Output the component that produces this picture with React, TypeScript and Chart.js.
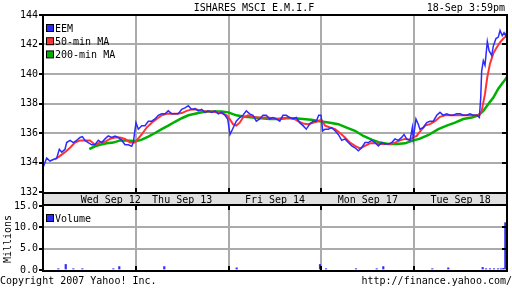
import React, { useEffect, useRef } from "react";
import { Chart, registerables } from "chart.js";

Chart.register(...registerables);

// ---------- text ----------
const TITLE = "ISHARES MSCI E.M.I.F";
const STAMP = "18-Sep 3:59pm";
const COPYRIGHT = "Copyright 2007 Yahoo! Inc.";
const URL_TEXT = "http://finance.yahoo.com/";
const VOLUME_AXIS_TITLE = "Millions";

// ---------- axes ----------
const dayLabels = ["Wed Sep 12", "Thu Sep 13", "Fri Sep 14", "Mon Sep 17", "Tue Sep 18"];
const dayLabelAt = [0.73, 1.5, 2.5, 3.5, 4.5];
const dayBoundaries = [1, 2, 3, 4];
const priceMin = 132;
const priceMax = 144;
const priceStep = 2;
const volMin = 0;
const volMax = 15;
const volStep = 5;

// ---------- data (x = trading days since Wed open) ----------
const eemTime = [
  0.003, 0.04, 0.075, 0.111, 0.148, 0.176, 0.202, 0.237, 0.255, 0.291,
  0.327, 0.363, 0.399, 0.424, 0.453, 0.488, 0.525, 0.56, 0.596, 0.633,
  0.668, 0.704, 0.74, 0.776, 0.811, 0.848, 0.884, 0.919, 0.956, 0.973,
  1.002, 1.027, 1.064, 1.099, 1.135, 1.171, 1.207, 1.242, 1.279, 1.315,
  1.35, 1.387, 1.422, 1.458, 1.495, 1.53, 1.566, 1.602, 1.638, 1.673,
  1.71, 1.746, 1.781, 1.818, 1.853, 1.889, 1.926, 1.961, 1.99,
  2.015, 2.051, 2.083, 2.12, 2.155, 2.191, 2.227, 2.263, 2.299, 2.335,
  2.371, 2.406, 2.443, 2.478, 2.514, 2.551, 2.586, 2.622, 2.658, 2.694,
  2.73, 2.766, 2.802, 2.837, 2.874, 2.909, 2.945, 2.971, 2.996,
  3.014, 3.039, 3.074, 3.111, 3.147, 3.182, 3.219, 3.254, 3.29, 3.327,
  3.362, 3.398, 3.434, 3.47, 3.505, 3.542, 3.578, 3.613, 3.65, 3.685,
  3.721, 3.758, 3.793, 3.829, 3.865, 3.89, 3.919, 3.955, 3.98, 3.99,
  4.019, 4.044, 4.062, 4.098, 4.135, 4.17, 4.206, 4.243, 4.278, 4.314,
  4.35, 4.386, 4.421, 4.458, 4.494, 4.529, 4.566, 4.601, 4.637, 4.674,
  4.702, 4.717, 4.727, 4.745, 4.763, 4.788, 4.806, 4.835, 4.853, 4.881,
  4.906, 4.925, 4.949, 4.968, 4.986, 5.0,
];
const eemPrice = [
  133.7, 134.3, 134.1, 134.2, 134.3, 134.9, 134.7, 134.9, 135.35, 135.5,
  135.35, 135.5, 135.7, 135.76, 135.5, 135.35, 135.2, 135.2, 135.5, 135.35,
  135.6, 135.8, 135.7, 135.8, 135.7, 135.5, 135.2, 135.2, 135.1, 135.35,
  136.7, 136.26, 136.5, 136.5, 136.8, 136.8, 136.95, 137.2, 137.3, 137.3,
  137.5, 137.3, 137.3, 137.3, 137.6, 137.7, 137.85, 137.6, 137.65, 137.5,
  137.6, 137.4, 137.5, 137.4, 137.5, 137.3, 137.4, 137.2, 136.95,
  135.9, 136.37, 136.8, 137.05, 137.2, 137.5, 137.3, 137.2, 136.8, 136.95,
  137.2, 137.2, 136.95, 137.05, 136.95, 136.8, 137.2, 137.2, 137.05, 136.95,
  137.05, 136.7, 136.5, 136.26, 136.6, 136.8, 136.8, 137.2, 137.2,
  136.15, 136.26, 136.26, 136.37, 136.15, 135.9, 135.5, 135.6, 135.35, 135.13,
  135.0, 134.8, 135.0, 135.35, 135.35, 135.5, 135.35, 135.13, 135.35, 135.25,
  135.25, 135.35, 135.6, 135.5, 135.7, 135.9, 135.6, 135.5, 136.37, 135.6,
  136.95, 136.6, 136.26, 136.37, 136.7, 136.8, 136.8, 137.2, 137.4, 137.2,
  137.3, 137.2, 137.2, 137.3, 137.3, 137.2, 137.2, 137.3, 137.2, 137.2,
  137.05, 138.4, 140.2, 140.9, 140.6, 142.2, 141.6, 141.25, 141.9, 142.4,
  142.5, 142.95, 142.6, 142.8, 142.6, 142.95,
];

const ma50Time = [
  0.129, 0.183, 0.237, 0.291, 0.345, 0.399, 0.453, 0.506, 0.56, 0.614,
  0.668, 0.722, 0.776, 0.83, 0.884, 0.938, 0.991,
  1.01, 1.064, 1.117, 1.171, 1.225, 1.279, 1.333, 1.387, 1.441, 1.495,
  1.548, 1.602, 1.656, 1.71, 1.764, 1.818, 1.872, 1.926, 1.98,
  2.012, 2.047, 2.083, 2.12, 2.155, 2.209, 2.263, 2.317, 2.371, 2.425,
  2.478, 2.532, 2.586, 2.64, 2.694, 2.748, 2.802, 2.856, 2.909, 2.963, 2.999,
  3.039, 3.093, 3.147, 3.2, 3.254, 3.308, 3.362, 3.416, 3.47, 3.524,
  3.578, 3.631, 3.685, 3.739, 3.793, 3.847, 3.901, 3.955, 3.99,
  4.027, 4.062, 4.116, 4.17, 4.224, 4.278, 4.332, 4.386, 4.44, 4.494,
  4.547, 4.601, 4.655, 4.702, 4.727, 4.763, 4.788, 4.817, 4.853, 4.889,
  4.925, 4.96, 4.997,
];
const ma50Price = [
  134.2, 134.45, 134.7, 135.0, 135.35, 135.5, 135.5, 135.5, 135.2, 135.35,
  135.4, 135.6, 135.7, 135.7, 135.6, 135.35, 135.35,
  135.5, 135.9, 136.37, 136.7, 136.95, 137.2, 137.3, 137.3, 137.3, 137.35,
  137.5, 137.6, 137.6, 137.5, 137.45, 137.45, 137.4, 137.35, 137.2,
  136.95, 136.6, 136.5, 136.7, 137.05, 137.2, 137.1, 137.05, 137.05, 137.05,
  137.0, 136.95, 137.0, 137.05, 137.0, 136.8, 136.65, 136.6, 136.7, 136.8, 136.9,
  136.5, 136.37, 136.26, 136.0, 135.7, 135.35, 135.13, 134.95, 135.13, 135.3,
  135.3, 135.25, 135.25, 135.25, 135.35, 135.5, 135.6, 135.55, 135.7,
  135.8, 136.1, 136.5, 136.6, 136.8, 137.1, 137.2, 137.2, 137.2, 137.2,
  137.2, 137.2, 137.2, 137.2, 137.5, 138.65, 139.8, 140.7, 141.4, 141.8,
  142.15, 142.4, 142.6,
];

const ma200Time = [
  0.499, 0.56, 0.614, 0.686, 0.758, 0.83, 0.902, 0.973, 1.01, 1.064,
  1.135, 1.207, 1.279, 1.35, 1.422, 1.495, 1.566, 1.638, 1.71, 1.781,
  1.853, 1.926, 1.997, 2.083, 2.173, 2.263, 2.352, 2.443, 2.532, 2.622,
  2.712, 2.802, 2.891, 2.982, 3.093, 3.182, 3.272, 3.362, 3.452, 3.542,
  3.631, 3.721, 3.811, 3.901, 3.99, 4.055, 4.149, 4.26, 4.35, 4.44,
  4.529, 4.62, 4.691, 4.745, 4.799, 4.853, 4.906, 4.96, 5.0,
];
const ma200Price = [
  134.9, 135.1, 135.2, 135.3, 135.35, 135.5, 135.5, 135.45, 135.45, 135.55,
  135.76, 136.0, 136.26, 136.5, 136.76, 137.0, 137.2, 137.3, 137.4, 137.45,
  137.46, 137.46, 137.4, 137.2, 137.1, 137.05, 137.0, 136.95, 136.95, 137.0,
  137.0, 136.95, 136.9, 136.8, 136.7, 136.6, 136.37, 136.15, 135.8, 135.55,
  135.35, 135.25, 135.25, 135.3, 135.5, 135.6, 135.85, 136.26, 136.5, 136.7,
  136.95, 137.05, 137.2, 137.5, 137.96, 138.4, 139.0, 139.45, 139.8,
];

const volTime = [
  0.165, 0.245, 0.327, 0.424, 0.758, 0.822, 1.307, 2.087, 2.985, 3.05,
  3.373, 3.596, 3.667, 4.195, 4.367, 4.738, 4.774, 4.817, 4.86, 4.903,
  4.935, 4.96, 4.982,
];
const volMillions = [
  0.3, 1.3, 0.3, 0.3, 0.3, 0.8, 0.8, 0.5, 1.3, 0.3,
  0.3, 0.3, 0.8, 0.3, 0.5, 0.6, 0.3, 0.3, 0.3, 0.3,
  0.3, 0.4, 11.1,
];

// ---------- style ----------
const FONT_FAMILY = '"DejaVu Sans Mono", "Liberation Mono", monospace';
const FONT_SIZE = 10;
const BLUE = "#2b2bff";
const RED = "#ff3333";
const GREEN = "#00b000";
const GRID = "#ababab";
const BAND = "#e0e0e0";
const W = 512;
const H = 288;
const PLOT_LEFT = 43;
const PLOT_RIGHT = 507;
const PRICE_TOP = 15;
const PRICE_BOTTOM = 192;
const VOL_TOP = 206;
const VOL_BOTTOM = 270;

const pairs = (xs: number[], ys: number[]) => xs.map((x, i) => ({ x, y: ys[i] }));
const font = () => `${FONT_SIZE}px ${FONT_FAMILY}`;

const edgeTransparent = (lo: number, hi: number) => (c: any) =>
  c.tick && (c.tick.value === lo || c.tick.value === hi) ? "rgba(0,0,0,0)" : GRID;

function drawLegend(ctx: CanvasRenderingContext2D, chart: any, x: number, y0: number, step: number) {
  chart.data.datasets.forEach((ds: any, i: number) => {
    const cy = y0 + i * step;
    ctx.fillStyle = "#000";
    ctx.fillRect(x, cy - 4, 8, 8);
    ctx.fillStyle = ds.borderColor || ds.backgroundColor;
    ctx.fillRect(x + 1, cy - 3, 6, 6);
    ctx.fillStyle = "#000";
    ctx.textAlign = "left";
    ctx.textBaseline = "middle";
    ctx.fillText(ds.label, x + 9, cy + 1);
  });
}

const priceDecor = {
  id: "priceDecor",
  afterDraw(chart: any) {
    const { ctx, chartArea } = chart;
    const { left, right, top, bottom } = chartArea;
    const x = chart.scales.x;
    const y = chart.scales.y;
    ctx.save();
    ctx.font = font();
    ctx.fillStyle = "#000";
    ctx.textBaseline = "middle";
    // header
    ctx.textAlign = "center";
    ctx.fillText(TITLE, 254, 8);
    ctx.textAlign = "right";
    ctx.fillText(STAMP, 505, 8);
    // footer
    ctx.textAlign = "left";
    ctx.fillText(COPYRIGHT, 0, 281);
    ctx.textAlign = "right";
    ctx.fillText(URL_TEXT, W, 281);
    // date band
    ctx.fillStyle = BAND;
    ctx.fillRect(left, bottom, right - left, VOL_TOP - bottom);
    ctx.fillStyle = "#000";
    ctx.fillRect(left - 1, bottom, right - left + 2, 2);
    ctx.fillRect(left - 1, VOL_TOP - 2, right - left + 2, 2);
    ctx.textAlign = "center";
    dayLabels.forEach((lab, i) => {
      ctx.fillText(lab, x.getPixelForValue(dayLabelAt[i]), (bottom + VOL_TOP) / 2 + 1);
    });
    // frame
    ctx.fillRect(left - 1, top - 1, right - left + 2, 2);
    ctx.fillRect(left - 1, top - 1, 2, VOL_BOTTOM + 2 - (top - 1));
    ctx.fillRect(right - 1, top - 1, 2, VOL_BOTTOM + 2 - (top - 1));
    // inner ticks on right edge
    for (let v = priceMin + priceStep; v < priceMax; v += priceStep) {
      const py = Math.round(y.getPixelForValue(v));
      ctx.fillRect(right - 5, py - 1, 5, 2);
    }
    // day boundary ticks at bottom
    dayBoundaries.forEach((d) => {
      const px = Math.round(x.getPixelForValue(d));
      ctx.fillRect(px - 1, bottom - 4, 2, 4);
    });
    // legend
    drawLegend(ctx, chart, 46, top + 13, 13.2);
    ctx.restore();
  },
};

const volumeDecor = {
  id: "volumeDecor",
  afterDraw(chart: any) {
    const { ctx, chartArea } = chart;
    const { left, right, top, bottom } = chartArea;
    const x = chart.scales.x;
    const y = chart.scales.y;
    ctx.save();
    ctx.font = font();
    ctx.fillStyle = "#000";
    // frame
    ctx.fillRect(left - 1, bottom, right - left + 2, 2);
    ctx.fillRect(left - 1, top - 2, 2, bottom - top + 4);
    ctx.fillRect(right - 1, top - 2, 2, bottom - top + 4);
    for (let v = volMin + volStep; v < volMax; v += volStep) {
      const py = Math.round(y.getPixelForValue(v));
      ctx.fillRect(right - 5, py - 1, 5, 2);
    }
    dayBoundaries.forEach((d) => {
      const px = Math.round(x.getPixelForValue(d));
      ctx.fillRect(px - 1, top, 2, 4);
      ctx.fillRect(px - 1, bottom - 4, 2, 4);
    });
    // axis title
    ctx.save();
    ctx.translate(8, (top + bottom) / 2 + 1);
    ctx.rotate(-Math.PI / 2);
    ctx.textAlign = "center";
    ctx.textBaseline = "middle";
    ctx.fillText(VOLUME_AXIS_TITLE, 0, 0);
    ctx.restore();
    drawLegend(ctx, chart, 46, top + 12, 13);
    ctx.restore();
  },
};

export default function App() {
  const priceRef = useRef<HTMLCanvasElement | null>(null);
  const volRef = useRef<HTMLCanvasElement | null>(null);

  useEffect(() => {
    const tickFont = { family: FONT_FAMILY, size: FONT_SIZE };
    const priceChart = new Chart(priceRef.current as HTMLCanvasElement, {
      type: "line",
      data: {
        datasets: [
          { label: "EEM", data: pairs(eemTime, eemPrice), borderColor: BLUE, backgroundColor: BLUE, borderWidth: 1.5, pointRadius: 0, tension: 0 },
          { label: "50-min MA", data: pairs(ma50Time, ma50Price), borderColor: RED, backgroundColor: RED, borderWidth: 2, pointRadius: 0, tension: 0 },
          { label: "200-min MA", data: pairs(ma200Time, ma200Price), borderColor: GREEN, backgroundColor: GREEN, borderWidth: 2.5, pointRadius: 0, tension: 0 },
        ],
      },
      options: {
        responsive: false,
        animation: false,
        devicePixelRatio: 1,
        layout: { padding: { left: 0, top: PRICE_TOP, right: W - PLOT_RIGHT, bottom: H - PRICE_BOTTOM } },
        plugins: { legend: { display: false }, tooltip: { enabled: false } },
        scales: {
          x: {
            type: "linear", min: 0, max: dayLabels.length,
            ticks: { display: false, stepSize: 1 },
            grid: { color: edgeTransparent(0, dayLabels.length), lineWidth: 2, drawTicks: false },
            border: { display: false },
            afterFit: (s: any) => { s.height = 0; },
          },
          y: {
            min: priceMin, max: priceMax,
            ticks: { stepSize: priceStep, font: tickFont, color: "#000", padding: 1 },
            grid: { color: edgeTransparent(priceMin, priceMax), lineWidth: 2, tickColor: "#000", tickLength: 4 },
            border: { display: false },
            afterFit: (s: any) => { s.width = PLOT_LEFT; },
          },
        },
      } as any,
      plugins: [priceDecor],
    });

    const volChart = new Chart(volRef.current as HTMLCanvasElement, {
      type: "bar",
      data: {
        datasets: [
          { label: "Volume", data: pairs(volTime, volMillions) as any, backgroundColor: BLUE, borderWidth: 0, barThickness: 1.5 },
        ],
      },
      options: {
        responsive: false,
        animation: false,
        devicePixelRatio: 1,
        layout: { padding: { left: 0, top: VOL_TOP, right: W - PLOT_RIGHT, bottom: H - VOL_BOTTOM } },
        plugins: { legend: { display: false }, tooltip: { enabled: false } },
        scales: {
          x: {
            type: "linear", min: 0, max: dayLabels.length, offset: false,
            ticks: { display: false, stepSize: 1 },
            grid: { offset: false, color: edgeTransparent(0, dayLabels.length), lineWidth: 2, drawTicks: false },
            border: { display: false },
            afterFit: (s: any) => { s.height = 0; },
          },
          y: {
            min: volMin, max: volMax,
            ticks: { stepSize: volStep, font: tickFont, color: "#000", padding: 1, callback: (v: any) => Number(v).toFixed(1) },
            grid: { color: edgeTransparent(volMin, volMax), lineWidth: 2, tickColor: "#000", tickLength: 4 },
            border: { display: false },
            afterFit: (s: any) => { s.width = PLOT_LEFT; },
          },
        },
      } as any,
      plugins: [volumeDecor],
    });

    return () => {
      priceChart.destroy();
      volChart.destroy();
    };
  }, []);

  return (
    <div style={{ position: "fixed", left: 0, top: 0, width: W, height: H, background: "#fff" }}>
      <canvas ref={priceRef} width={W} height={H} style={{ position: "absolute", left: 0, top: 0 }} />
      <canvas ref={volRef} width={W} height={H} style={{ position: "absolute", left: 0, top: 0 }} />
    </div>
  );
}
